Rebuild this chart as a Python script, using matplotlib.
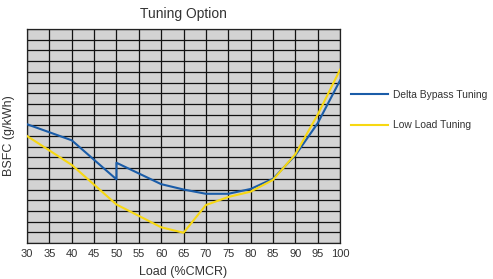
import matplotlib.pyplot as plt
import numpy as np

plt.rcParams['font.family'] = ['Liberation Sans', 'DejaVu Sans']

# load points (%CMCR)
load = [30, 40, 50, 50, 60, 65, 70, 75, 80, 85, 90, 95, 100]
delta_bypass = [11.1, 9.6, 5.95, 7.5, 5.5, 5.0, 4.6, 4.6, 5.05, 6.0, 8.2, 11.2, 15.2]

load_low = [30, 40, 50, 60, 65, 70, 75, 80, 85, 90, 95, 100]
low_load = [10.0, 7.3, 3.6, 1.47, 0.96, 3.55, 4.3, 4.8, 5.9, 8.3, 12.0, 16.2]

xticks = np.arange(30, 101, 5)

txt = '#333333'
fig = plt.figure(figsize=(4.93, 2.79), dpi=100)
ax = fig.add_axes([0.0548, 0.129, 0.635, 0.767])
ax.set_facecolor('#d3d3d3')

ax.plot(load, delta_bypass, color='#1a5ca8', lw=1.5, label='Delta Bypass Tuning', zorder=3)
ax.plot(load_low, low_load, color='#f7d812', lw=1.5, label='Low Load Tuning', zorder=3)

ax.set_xlim(30, 100)
ax.set_ylim(0, 20)
ax.set_xticks(xticks)
ax.set_xticklabels([str(v) for v in xticks], fontsize=8, color=txt)
ax.set_yticks(np.arange(0, 21, 1))
ax.set_yticklabels([])
ax.tick_params(length=0, pad=4)
ax.grid(True, color='#111111', lw=0.9)
ax.set_axisbelow(True)
for s in ax.spines.values():
    s.set_color('#222222')
    s.set_linewidth(0.9)

ax.set_title('Tuning Option', fontsize=10, color=txt, pad=8)
ax.set_xlabel('Load (%CMCR)', fontsize=9, color=txt, labelpad=5)
ax.set_ylabel('BSFC (g/kWh)', fontsize=9, color=txt, labelpad=5)

ax.legend(loc='upper left', bbox_to_anchor=(1.005, 0.76), frameon=False,
          fontsize=7.4, handlelength=3.6, handletextpad=0.45,
          labelspacing=2.0, labelcolor=txt)

fig.savefig('out.png', dpi=100)
